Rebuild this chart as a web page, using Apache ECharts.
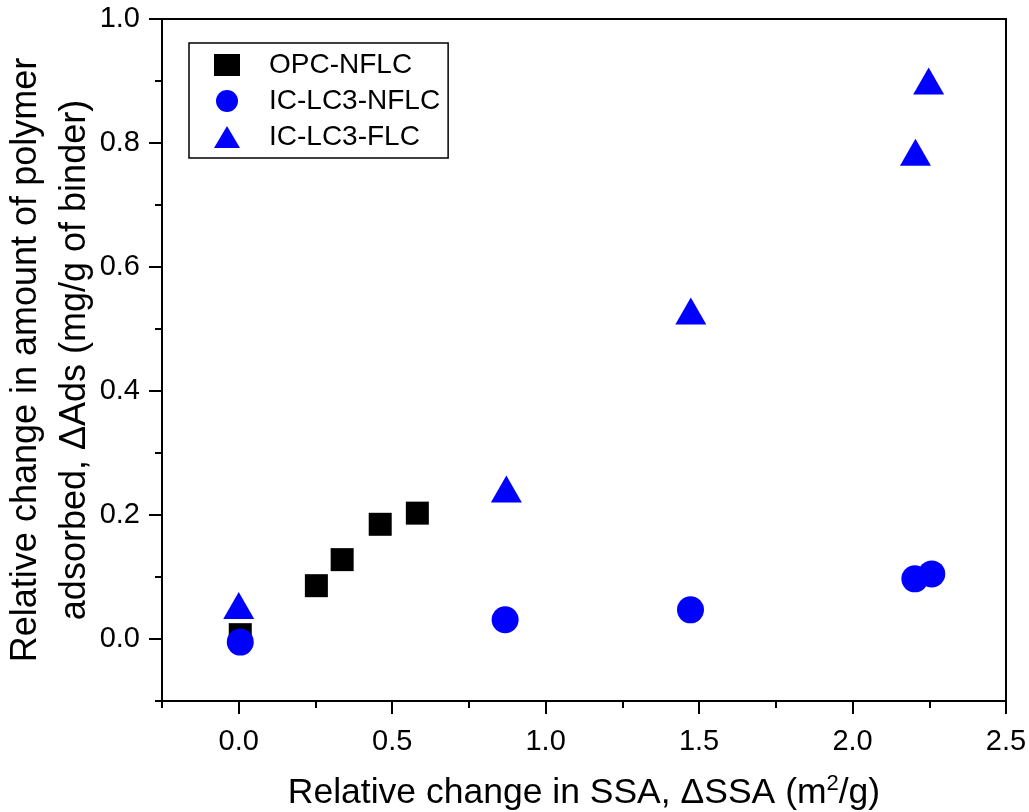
<!DOCTYPE html>
<html>
<head>
<meta charset="utf-8">
<script src="https://cdn.jsdelivr.net/npm/echarts@6/dist/echarts.min.js"></script>
<style>
  html, body { margin: 0; padding: 0; background: #fff; }
  #chart { width: 1029px; height: 812px; }
</style>
</head>
<body>
<div id="chart"></div>
<script>
// Relative change in adsorbed polymer vs relative change in specific surface area
const seriesNames = ['OPC-NFLC', 'IC-LC3-NFLC', 'IC-LC3-FLC'];

const opcNflcX = [0.005, 0.253, 0.337, 0.461, 0.582];
const opcNflcY = [0.007, 0.086, 0.128, 0.185, 0.203];

const icNflcX = [0.005, 0.868, 1.472, 2.203, 2.258];
const icNflcY = [-0.005, 0.031, 0.047, 0.097, 0.105];

const icFlcX = [0.0, 0.872, 1.473, 2.205, 2.248];
const icFlcY = [0.054, 0.242, 0.529, 0.785, 0.900];

// Axis tick positions
const xMajorTicks = [0, 0.5, 1.0, 1.5, 2.0, 2.5];
const xMinorTicks = [-0.25, 0.25, 0.75, 1.25, 1.75, 2.25];
const yMajorTicks = [0, 0.2, 0.4, 0.6, 0.8, 1.0];
const yMinorTicks = [-0.1, 0.1, 0.3, 0.5, 0.7, 0.9];

const pairs = (xs, ys) => xs.map((x, i) => [x, ys[i]]);

const FONT = "'Liberation Sans', Arial, sans-serif";
const BLUE = '#0000ff';

const chart = echarts.init(document.getElementById('chart'), null, { renderer: 'canvas' });

const baseX = {
  type: 'value', min: -0.25, max: 2.5, position: 'bottom',
  splitLine: { show: false }
};
const baseY = {
  type: 'value', min: -0.1, max: 1.0, position: 'left',
  splitLine: { show: false }
};
const tickLine = { color: '#000', width: 2 };

chart.setOption({
  animation: false,
  backgroundColor: '#fff',
  grid: {
    left: 162, top: 19, right: 23, bottom: 111,
    containLabel: false, outerBoundsMode: 'none',
    show: true, borderColor: '#000', borderWidth: 2, backgroundColor: 'transparent'
  },
  legend: {
    data: seriesNames,
    orient: 'vertical',
    left: 189, top: 43,
    padding: [8, 8, 7, 25],
    itemWidth: 26, itemHeight: 22,
    itemGap: 8,
    borderColor: '#000', borderWidth: 1.5,
    textStyle: { fontFamily: FONT, fontSize: 28, color: '#000', lineHeight: 28, padding: [0, 0, 0, 24] }
  },
  xAxis: [
    Object.assign({}, baseX, {
      name: '{a|Relative change in SSA, ΔSSA (m}{s|2}{a|/g)}',
      nameLocation: 'middle',
      nameGap: 72,
      nameMoveOverlap: false,
      nameTextStyle: {
        rich: {
          a: { fontFamily: FONT, fontSize: 35.5, color: '#000', lineHeight: 40 },
          s: { fontFamily: FONT, fontSize: 22, color: '#000', verticalAlign: 'top', lineHeight: 22 }
        }
      },
      axisLine: { show: true, onZero: false, lineStyle: tickLine },
      axisTick: { show: true, customValues: xMajorTicks, length: 13, lineStyle: tickLine },
      axisLabel: {
        show: true, customValues: xMajorTicks, margin: 26,
        fontFamily: FONT, fontSize: 29, color: '#000',
        formatter: v => v.toFixed(1)
      }
    }),
    Object.assign({}, baseX, {
      axisLine: { show: false, onZero: false },
      axisTick: { show: true, customValues: xMinorTicks, length: 7, lineStyle: tickLine },
      axisLabel: { show: false }
    })
  ],
  yAxis: [
    Object.assign({}, baseY, {
      name: 'Relative change in amount of polymer\nadsorbed, ΔAds (mg/g of binder)',
      nameLocation: 'middle',
      nameGap: 62,
      nameMoveOverlap: false,
      nameTextStyle: { fontFamily: FONT, fontSize: 36, color: '#000', lineHeight: 49 },
      axisLine: { show: true, onZero: false, lineStyle: tickLine },
      axisTick: { show: true, customValues: yMajorTicks, length: 13, lineStyle: tickLine },
      axisLabel: {
        show: true, customValues: yMajorTicks, margin: 22,
        fontFamily: FONT, fontSize: 29, color: '#000',
        formatter: v => v.toFixed(1)
      }
    }),
    Object.assign({}, baseY, {
      axisLine: { show: false, onZero: false },
      axisTick: { show: true, customValues: yMinorTicks, length: 7, lineStyle: tickLine },
      axisLabel: { show: false }
    })
  ],
  series: [
    {
      name: seriesNames[0], type: 'scatter', xAxisIndex: 0, yAxisIndex: 0,
      symbol: 'rect', symbolSize: 23,
      itemStyle: { color: '#000', opacity: 1 },
      data: pairs(opcNflcX, opcNflcY)
    },
    {
      name: seriesNames[1], type: 'scatter', xAxisIndex: 0, yAxisIndex: 0,
      symbol: 'circle', symbolSize: 27,
      itemStyle: { color: BLUE, opacity: 1 },
      data: pairs(icNflcX, icNflcY)
    },
    {
      name: seriesNames[2], type: 'scatter', xAxisIndex: 0, yAxisIndex: 0,
      symbol: 'triangle', symbolSize: [31, 27],
      itemStyle: { color: BLUE, opacity: 1 },
      data: pairs(icFlcX, icFlcY)
    }
  ]
});
</script>
</body>
</html>
